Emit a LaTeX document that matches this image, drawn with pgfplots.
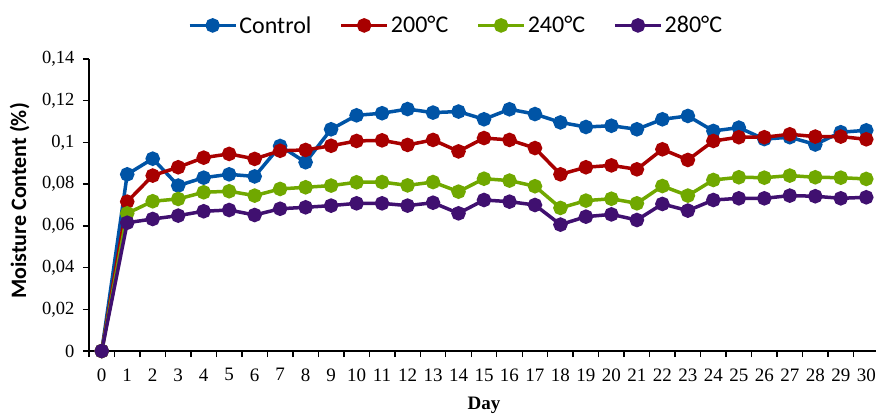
\documentclass[border=0pt]{standalone}
\usepackage{fontspec}
\setmainfont{Liberation Serif}
\newfontfamily\carlito{Carlito}
\usepackage{pgfplots}
\usepackage{pgfplotstable}
\pgfplotsset{compat=1.18}
\definecolor{cblue}{RGB}{0,84,166}
\definecolor{cred}{RGB}{168,0,0}
\definecolor{cgreen}{RGB}{112,168,0}
\definecolor{cpurple}{RGB}{64,16,112}

\pgfplotstableread{
day control t200 t240 t280
0  0      0      0      0
1  0.0847 0.0716 0.0660 0.0615
2  0.0922 0.0841 0.0718 0.0633
3  0.0793 0.0881 0.0729 0.0649
4  0.0831 0.0927 0.0761 0.0670
5  0.0847 0.0945 0.0766 0.0676
6  0.0837 0.0921 0.0745 0.0652
7  0.0983 0.0960 0.0777 0.0682
8  0.0905 0.0964 0.0785 0.0689
9  0.1063 0.0984 0.0793 0.0697
10 0.1130 0.1007 0.0809 0.0708
11 0.1140 0.1010 0.0810 0.0708
12 0.1160 0.0988 0.0794 0.0697
13 0.1143 0.1012 0.0810 0.0711
14 0.1148 0.0957 0.0764 0.0660
15 0.1111 0.1021 0.0826 0.0724
16 0.1159 0.1012 0.0817 0.0716
17 0.1136 0.0973 0.0790 0.0700
18 0.1096 0.0847 0.0686 0.0606
19 0.1074 0.0881 0.0721 0.0644
20 0.1080 0.0890 0.0730 0.0655
21 0.1063 0.0871 0.0708 0.0628
22 0.1111 0.0967 0.0791 0.0705
23 0.1127 0.0916 0.0745 0.0673
24 0.1055 0.1007 0.0820 0.0724
25 0.1071 0.1025 0.0833 0.0732
26 0.1016 0.1025 0.0831 0.0732
27 0.1025 0.1039 0.0841 0.0745
28 0.0990 0.1028 0.0833 0.0742
29 0.1049 0.1028 0.0831 0.0732
30 0.1058 0.1015 0.0825 0.0737
}\datatable

\begin{document}
\begin{tikzpicture}
\useasboundingbox (-89bp,-63bp) rectangle (787bp,351bp);
\begin{axis}[
  at={(0,0)}, anchor=south west, scale only axis,
  width=790bp, height=292bp,
  xmin=-0.5, xmax=30.5, ymin=0, ymax=0.14,
  clip=false,
  axis x line=bottom, axis y line=left,
  axis line style={-, line width=1.6bp, black},
  tick align=outside,
  xtick={0,...,30},
  minor xtick={-0.5,0.5,...,30.5},
  major x tick style={draw=none},
  minor x tick style={black, line width=1.4bp},
  minor tick length=6bp,
  major tick length=6bp,
  ytick={0,0.02,0.04,0.06,0.08,0.1,0.12,0.14},
  yticklabels={0,{0,02},{0,04},{0,06},{0,08},{0,1},{0,12},{0,14}},
  ytick style={black, line width=1.4bp},
  /pgf/number format/assume math mode=true,
  xticklabel style={font=\fontsize{19bp}{22bp}\selectfont, yshift=-8bp},
  yticklabel style={font=\fontsize{18.5bp}{21bp}\selectfont, xshift=-5bp},
  xlabel={Day},
  xlabel style={font=\bfseries\fontsize{19bp}{22bp}\selectfont, yshift=-9bp},
  ylabel={Moisture Content (\%)},
  ylabel style={at={(axis description cs:-0.0877,0.514)}, anchor=center,
    font=\carlito\bfseries\fontsize{22bp}{26bp}\selectfont},
  legend style={at={(axis description cs:0.4646,1.115)}, anchor=center,
    draw=none, fill=none, font=\carlito\fontsize{24bp}{28bp}\selectfont,
    /tikz/every even column/.append style={column sep=26bp}},
  legend columns=4,
  legend cell align=left,
  legend image code/.code={\draw[mark repeat=2,mark phase=2,#1] plot coordinates {(0bp,0bp) (23bp,0bp) (46bp,0bp)};},
  every axis plot/.append style={line width=3.5bp, mark=*, mark size=5.5bp, mark options={solid}},
]
\addplot[color=cblue] table[x=day,y=control] {\datatable};
\addplot[color=cred] table[x=day,y=t200] {\datatable};
\addplot[color=cgreen] table[x=day,y=t240] {\datatable};
\addplot[color=cpurple] table[x=day,y=t280] {\datatable};
\legend{Control,200°C,240°C,280°C}
\end{axis}
\end{tikzpicture}
\end{document}
